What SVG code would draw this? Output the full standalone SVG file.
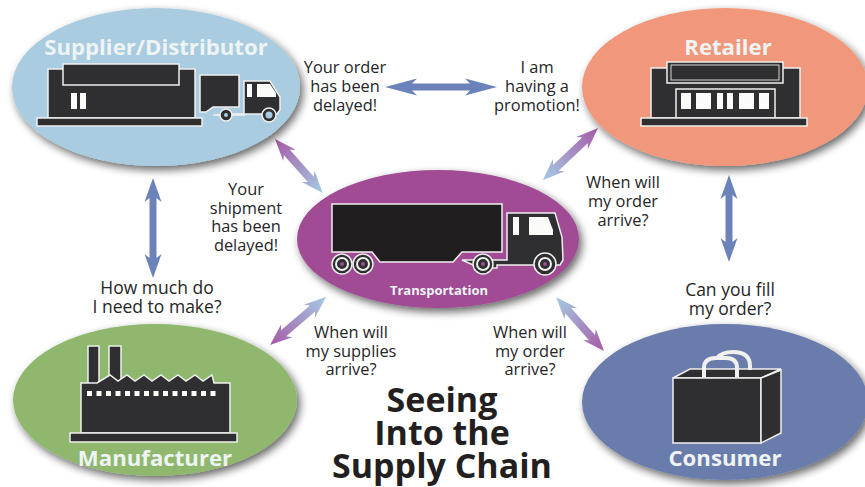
<svg xmlns="http://www.w3.org/2000/svg" width="865" height="487" viewBox="0 0 865 487">
<style>
.lbl{font-family:"Open Sans","Noto Sans",sans-serif;font-size:16.400px;font-weight:500;fill:#262626;text-anchor:middle}
.big{font-size:17.500px}
.name{font-family:"Open Sans","Noto Sans",sans-serif;font-size:22.200px;font-weight:700;fill:#eef3f4;text-anchor:middle}
.title{font-family:"Open Sans","Noto Sans",sans-serif;font-size:34px;font-weight:700;fill:#231f20;text-anchor:middle}
.ic{fill:#2f2f31;stroke:#f0f0ee;stroke-width:1.5;stroke-linejoin:miter}
.blk{fill:#1f1d1e;stroke:#f0f0ee;stroke-width:1.5}
.w{fill:#fbfbfa}
.wh{fill:none;stroke:#f0f0ee;stroke-width:4}
.el{filter:url(#sh)}
</style>
<defs>
<filter id="sh" x="-10%" y="-10%" width="125%" height="130%"><feGaussianBlur in="SourceAlpha" stdDeviation="4"/><feOffset dx="3" dy="4"/><feComponentTransfer><feFuncA type="linear" slope="0.6"/></feComponentTransfer><feMerge><feMergeNode/><feMergeNode in="SourceGraphic"/></feMerge></filter>
<linearGradient id="g"><stop offset="0" stop-color="#a55aa5"/><stop offset="1" stop-color="#a5cbe4"/></linearGradient>
</defs>
<rect width="865" height="487" fill="#fff"/>
<g id="connectors">
<path fill="#6c82bb" d="M385 87L417 78.500L412 83.500H470L465 78.500L497 87L465 95.500L470 90.500H412L417 95.500Z"/>
<path fill="#6c82bb" d="M153 178L161.500 202L156.500 198V258L161.500 254L153 278L144.500 254L149.500 258V198L144.500 202Z"/>
<path fill="#6c82bb" d="M729 175L737.500 199L732.500 195V242L737.500 238L729 262L720.500 238L725.500 242V195L720.500 199Z"/>
<path fill="url(#g)" transform="translate(275,139) rotate(48.500)" d="M0 0L22 -8.500L18 -4H54L50 -8.500L72 0L50 8.500L54 4H18L22 8.500Z"/>
<path fill="url(#g)" transform="translate(598,128) rotate(136.600)" d="M0 0L22 -8.500L18 -4H58L54 -8.500L76 0L54 8.500L58 4H18L22 8.500Z"/>
<path fill="url(#g)" transform="translate(270,345) rotate(-40.600)" d="M0 0L22 -8.500L18 -4H56L52 -8.500L74 0L52 8.500L56 4H18L22 8.500Z"/>
<path fill="url(#g)" transform="translate(604,351) rotate(228.400)" d="M0 0L22 -8.500L18 -4H54L50 -8.500L72 0L50 8.500L54 4H18L22 8.500Z"/>
</g>
<g id="supplier">
<ellipse class="el" cx="156" cy="87" rx="144" ry="79" fill="#a9cce0"/>
<text class="name" x="156" y="55">Supplier/Distributor</text>
<rect class="ic" x="48" y="69" width="147" height="49"/>
<rect class="ic" x="63" y="64" width="116" height="21"/>
<rect class="ic" x="37" y="118" width="165" height="8"/>
<rect class="w" x="71" y="93" width="6" height="16"/><rect class="w" x="80" y="93" width="6" height="16"/>
<path class="ic" d="M200 75H239V107H213L206 112H200Z"/>
<path class="ic" d="M213 115H244V81H270L280 97V110L277 114H270H232Z"/>
<circle class="ic" cx="226" cy="115" r="6"/><circle cx="226" cy="115" r="2" fill="#a9cce0"/>
<circle class="ic" cx="269" cy="115" r="7"/><circle cx="269" cy="115" r="3.500" fill="#a9cce0"/>
<rect class="w" x="247" y="84" width="5" height="13"/>
<path class="w" d="M257 84H270L276 93V97H257Z"/>
</g>
<g id="retailer">
<ellipse class="el" cx="725" cy="87" rx="143" ry="79" fill="#f1987b"/>
<text class="name" x="728" y="55">Retailer</text>
<rect class="ic" x="651" y="68" width="149" height="50"/>
<rect class="ic" x="667" y="62" width="116" height="21"/>
<rect x="671" y="65" width="108" height="15" fill="none" stroke="#d8d8d8" stroke-width="1"/>
<rect class="ic" x="676" y="89" width="99" height="29"/>
<rect class="w" x="681" y="93" width="10" height="16"/><rect class="w" x="696" y="93" width="15" height="16"/><rect class="w" x="717" y="93" width="6" height="16"/><rect class="w" x="727" y="93" width="6" height="16"/><rect class="w" x="739" y="93" width="15" height="16"/><rect class="w" x="759" y="93" width="10" height="16"/>
<rect class="ic" x="641" y="118" width="166" height="8"/>
</g>
<g id="transportation">
<ellipse class="el" cx="438" cy="239" rx="141" ry="69" fill="#a04b94"/>
<path class="blk" d="M332 204H502V252H462L453 262H380L372 252H332Z"/>
<path class="ic" d="M462 260H507V213H555L562 237L563 260L560 265H497V268H480Z"/>
<circle class="ic" cx="342" cy="264" r="10"/><circle cx="342" cy="264" r="6" fill="none" stroke="#f0f0ee" stroke-width="2"/><circle cx="342" cy="264" r="2" fill="#a04b94"/>
<circle class="ic" cx="363" cy="264" r="10"/><circle cx="363" cy="264" r="6" fill="none" stroke="#f0f0ee" stroke-width="2"/><circle cx="363" cy="264" r="2" fill="#a04b94"/>
<circle class="ic" cx="483" cy="264" r="10"/><circle cx="483" cy="264" r="6" fill="none" stroke="#f0f0ee" stroke-width="2"/><circle cx="483" cy="264" r="2" fill="#a04b94"/>
<circle class="ic" cx="545" cy="264" r="11"/><circle cx="545" cy="264" r="6" fill="none" stroke="#f0f0ee" stroke-width="2"/><circle cx="545" cy="264" r="2" fill="#a04b94"/>
<rect class="w" x="513" y="217" width="6" height="18"/>
<path class="w" d="M529 217H548L553 230V235H529Z"/>
<text class="name" style="font-size:13px" x="439" y="295">Transportation</text>
</g>
<g id="manufacturer">
<ellipse class="el" cx="155" cy="400" rx="142" ry="76" fill="#8fb86e"/>
<rect class="ic" x="88" y="346" width="11" height="40"/><rect class="ic" x="109" y="346" width="12" height="40"/>
<path class="ic" d="M81 383H97L110 375L118 381L127 375L135 381L144 375L152 381L161 375L169 381L178 375L186 381L195 375L203 381L212 375L214 383H230V433H81Z"/>
<g class="w"><rect x="87" y="391" width="5" height="5"/><rect x="96.500" y="391" width="5" height="5"/><rect x="106" y="391" width="5" height="5"/><rect x="115.500" y="391" width="5" height="5"/><rect x="125" y="391" width="5" height="5"/><rect x="134.500" y="391" width="5" height="5"/><rect x="144" y="391" width="5" height="5"/><rect x="153.500" y="391" width="5" height="5"/><rect x="163" y="391" width="5" height="5"/><rect x="172.500" y="391" width="5" height="5"/><rect x="182" y="391" width="5" height="5"/><rect x="191.500" y="391" width="5" height="5"/><rect x="201" y="391" width="5" height="5"/><rect x="210.500" y="391" width="5" height="5"/></g>
<rect class="ic" x="70" y="433" width="167" height="9"/>
<text class="name" x="155" y="466">Manufacturer</text>
</g>
<g id="consumer">
<ellipse class="el" cx="725" cy="402" rx="143" ry="78" fill="#6a7cab"/>
<path class="ic" d="M673 378L690 369H781L761 378Z"/>
<path class="wh" d="M717 358Q722 352 733 352Q750 352 750 366V370"/>
<path class="wh" d="M704 377V368Q704 358 716 358H726Q737 358 737 368V377"/>
<rect class="ic" x="673" y="378" width="88" height="65"/>
<path class="ic" d="M761 378L781 370V433L761 443Z"/>
<text class="name" x="725" y="466">Consumer</text>
</g>
<g id="labels">
<text class="lbl"><tspan x="345" y="73">Your order</tspan><tspan x="345" y="92">has been</tspan><tspan x="345" y="111">delayed!</tspan></text>
<text class="lbl"><tspan x="537" y="73">I am</tspan><tspan x="537" y="92">having a</tspan><tspan x="537" y="111">promotion!</tspan></text>
<text class="lbl"><tspan x="246" y="195">Your</tspan><tspan x="246" y="214">shipment</tspan><tspan x="246" y="232">has been</tspan><tspan x="246" y="251">delayed!</tspan></text>
<text class="lbl"><tspan x="623" y="188">When will</tspan><tspan x="623" y="207">my order</tspan><tspan x="623" y="226">arrive?</tspan></text>
<text class="lbl big"><tspan x="157" y="294">How much do</tspan><tspan x="157" y="313">I need to make?</tspan></text>
<text class="lbl big"><tspan x="730" y="296">Can you fill</tspan><tspan x="730" y="315">my order?</tspan></text>
<text class="lbl"><tspan x="351" y="338">When will</tspan><tspan x="351" y="357">my supplies</tspan><tspan x="351" y="375">arrive?</tspan></text>
<text class="lbl"><tspan x="530" y="338">When will</tspan><tspan x="530" y="357">my order</tspan><tspan x="530" y="375">arrive?</tspan></text>
<text class="title"><tspan x="442" y="412">Seeing</tspan><tspan x="442" y="445">Into the</tspan><tspan x="442" y="478">Supply Chain</tspan></text>
</g>
</svg>
